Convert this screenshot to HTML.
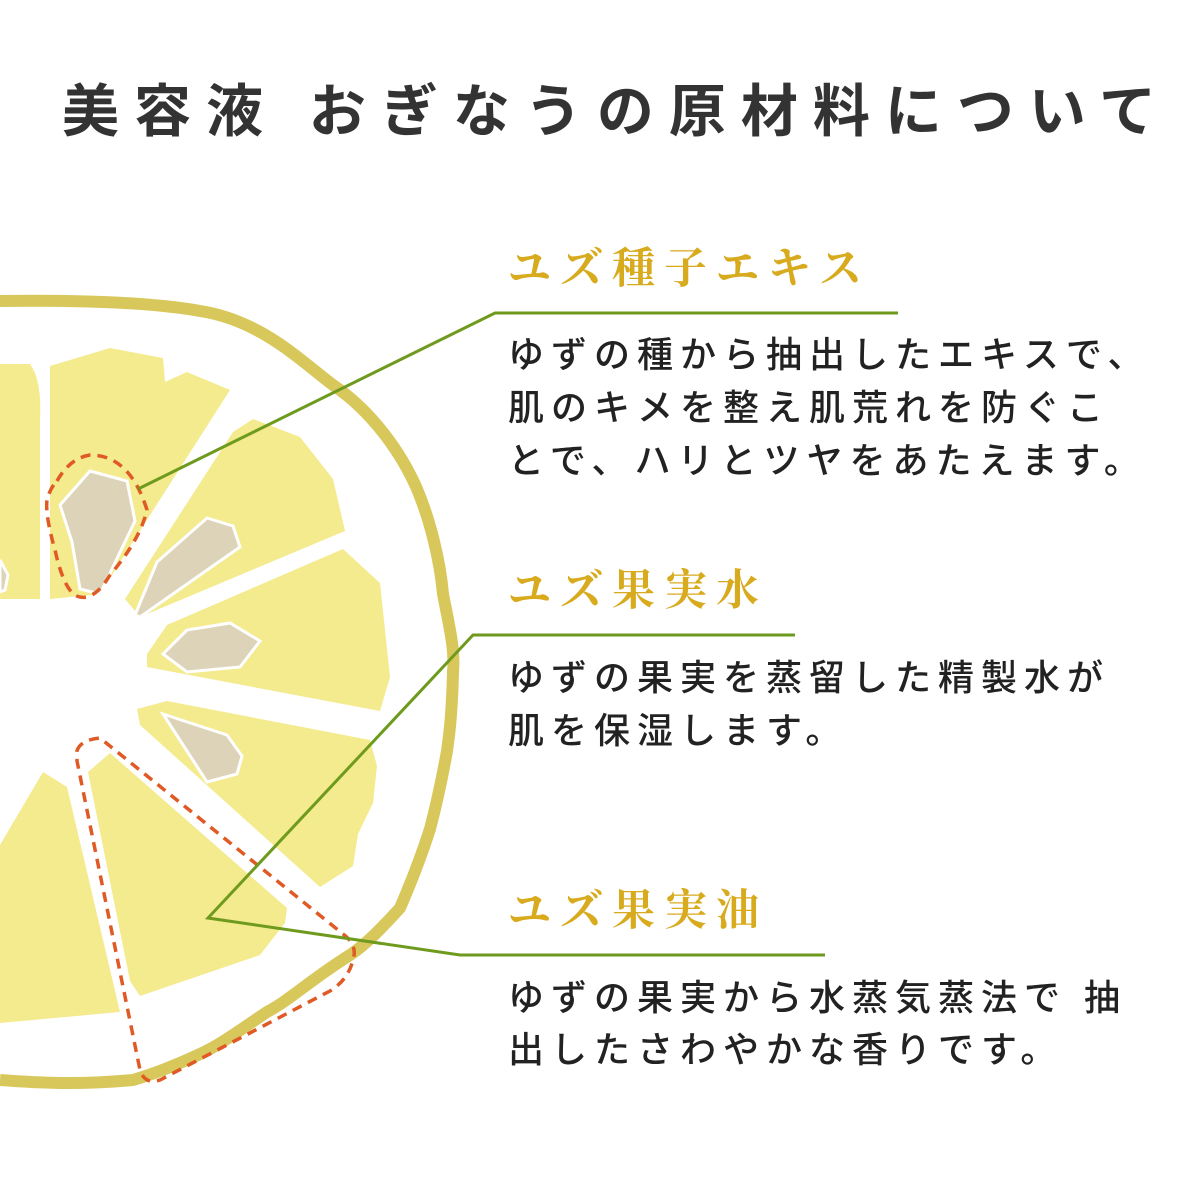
<!DOCTYPE html>
<html><head><meta charset="utf-8"><style>
html,body{margin:0;padding:0;background:#fff;}
body{width:1202px;height:1201px;position:relative;overflow:hidden;}
.t{position:absolute;white-space:nowrap;}
.title{left:62px;top:80px;font:bold 57px/64px "Liberation Sans","Noto Sans CJK JP",sans-serif;letter-spacing:15px;color:#333;}
.h{font:bold 43px/48px "Liberation Serif","Noto Serif CJK SC",serif;color:#d8aa1e;letter-spacing:9px;left:508px;}
.b{font:500 36px/53px "Liberation Sans","Noto Sans CJK JP",sans-serif;color:#222;letter-spacing:7px;left:508px;}
svg{position:absolute;left:0;top:0;}
</style></head><body>
<svg width="1202" height="1201" viewBox="0 0 1202 1201">
<g fill="#f4ea8e">
<path d="M0,364 L30,364 Q42,380 40,420 L40,599 L0,599Z"/>
<path d="M50,366 L110,348 L163,358 L165,382 L187,372 L230,390 L143,526 L100,594 L50,599Z"/>
<path d="M125,599 L140,617 L345,531 L333,479 L300,437 L253,419 L233,432Z"/>
<path d="M147,654 L167,625 L343,549 L380,583 L390,677 L380,711 L147,667Z"/>
<path d="M137,709 L167,701 L370,740 L377,766 L373,803 L358,834 L353,866 L320,887 L140,725Z"/>
<path d="M88,772 L110,753 L287,908 L285,923 L260,955 L140,996 L130,981Z"/>
<path d="M0,845 L43,772 L67,787 L120,1012 L0,1023Z"/>
</g>
<g fill="#ddd3b9" stroke="#fff" stroke-width="3">
<path d="M60,505 L90,471 L127,481 L135,521 L100,594 L80,589 L72,542Z"/>
<path d="M135,615 L157,562 L207,518 L233,526 L240,547 L140,617Z"/>
<path d="M163,654 L187,630 L230,623 L260,641 L240,667 L187,672Z"/>
<path d="M163,714 L227,735 L242,756 L237,774 L207,782Z"/>
<path d="M0,560 L8,575 L5,590 L0,592Z"/>
</g>
<path d="M0,301 C80,300 150,302 200,311 C260,320 300,360 333,385 C370,410 400,450 417,489 C430,520 440,560 443,594 C450,630 455,650 453,672 C452,710 450,730 447,751 C440,790 435,810 430,829 C420,860 410,885 400,908 C380,930 365,945 350,955 C310,980 290,1000 267,1012 C240,1030 220,1045 200,1054 C170,1068 150,1075 133,1080 C80,1085 40,1083 0,1080" fill="none" stroke="#d8c85c" stroke-width="12"/>
<g fill="none" stroke="#e05a25" stroke-width="3.5" stroke-dasharray="10 7">
<path d="M57,481 Q70,458 90,455 Q130,455 147,510 Q140,540 110,575 Q95,600 80,597 Q65,595 55,550 Q45,515 47,500 Q50,488 57,481Z"/>
<path d="M77,751 Q80,740 100,738 L343,934 Q358,945 353,960 Q348,980 330,991 L160,1080 Q145,1085 140,1070 L77,761Z"/>
</g>
<g fill="none" stroke="#6e9a1e" stroke-width="3">
<path d="M138,489 L495,313 L898,313"/>
<path d="M795,635 L473,635 L208,918 L460,955 L825,955"/>
</g>
</svg>
<div class="t title">美容液 おぎなうの原材料について</div>
<div class="t h" style="top:246px">ユズ種子エキス</div>
<div class="t b" style="top:328px">ゆずの種から抽出したエキスで、</div>
<div class="t b" style="top:381px">肌のキメを整え肌荒れを防ぐこ</div>
<div class="t b" style="top:434px">とで、ハリとツヤをあたえます。</div>
<div class="t h" style="top:568px">ユズ果実水</div>
<div class="t b" style="top:651px">ゆずの果実を蒸留した精製水が</div>
<div class="t b" style="top:704px">肌を保湿します。</div>
<div class="t h" style="top:888px">ユズ果実油</div>
<div class="t b" style="top:971px">ゆずの果実から水蒸気蒸法で 抽</div>
<div class="t b" style="top:1023px">出したさわやかな香りです。</div>
</body></html>
